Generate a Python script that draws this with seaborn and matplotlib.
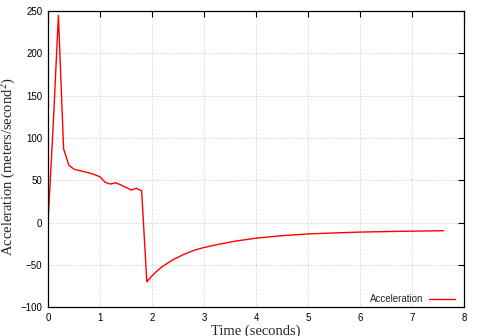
import matplotlib
matplotlib.use("Agg")
import matplotlib.pyplot as plt
import seaborn as sns
import pandas as pd

time_s = [0.0, 0.1, 0.2, 0.3, 0.4, 0.5, 0.6, 0.7, 0.8, 0.9, 1.0, 1.1, 1.2, 1.3, 1.4,
          1.5, 1.6, 1.7, 1.8, 1.9, 2.0, 2.1, 2.2, 2.4, 2.6, 2.8, 3.0, 3.3, 3.6, 4.0,
          4.5, 5.0, 5.5, 6.0, 6.5, 7.0, 7.6]
accel = [0.0, 115.0, 245.0, 87.0, 68.0, 63.0, 61.5, 60.0, 58.5, 56.5, 54.0, 47.5, 45.5,
         47.0, 44.5, 41.5, 38.5, 40.5, 37.5, -70.0, -63.0, -57.0, -52.0, -44.0, -38.0,
         -33.0, -29.5, -25.5, -22.0, -18.5, -15.5, -13.5, -12.3, -11.3, -10.7, -10.2, -9.7]
x_ticks = [0, 1, 2, 3, 4, 5, 6, 7, 8]
y_ticks = [-100, -50, 0, 50, 100, 150, 200, 250]

df = pd.DataFrame({"Time": time_s, "Acceleration": accel})

sns.set_style("white")
plt.rcParams["font.family"] = ["Liberation Sans", "DejaVu Sans"]
plt.rcParams["mathtext.fontset"] = "custom"
plt.rcParams["mathtext.rm"] = "Liberation Serif"
plt.rcParams["mathtext.it"] = "Liberation Serif:italic"
plt.rcParams["mathtext.bf"] = "Liberation Serif:bold"

fig = plt.figure(figsize=(4.8, 3.36), dpi=100)
ax = fig.add_axes([0.1, 0.086, 0.867, 0.881])

sns.lineplot(data=df, x="Time", y="Acceleration", ax=ax, color="#ff0000",
             linewidth=1.0, label="Acceleration", estimator=None, sort=False)

ax.set_xlim(0, 8)
ax.set_ylim(-100, 250)
ax.set_xticks(x_ticks)
ax.set_yticks(y_ticks)
ax.tick_params(direction="in", top=True, right=True, length=4, width=0.8,
               labelsize=7, colors="black", pad=4)
ax.grid(True, color="#bbbbbb", linestyle=(0, (1, 2)), linewidth=0.6)
for s in ax.spines.values():
    s.set_visible(True)
    s.set_color("black")
    s.set_linewidth(0.9)

ax.set_xlabel("Time (seconds)", family=["Liberation Serif", "DejaVu Serif"], fontsize=10.5, labelpad=1)
ax.set_ylabel(r"Acceleration (meters/second$^{\mathrm{2}}$)",
              family=["Liberation Serif", "DejaVu Serif"], fontsize=10.5, labelpad=0)
ax.yaxis.set_label_coords(-0.072, 0.473)

leg = ax.legend(loc="lower right", bbox_to_anchor=(0.985, 0.0), frameon=False,
                markerfirst=False, fontsize=7, handlelength=2.7, handletextpad=0.6,
                borderaxespad=0.0, borderpad=0.3)

fig.savefig("out.png", dpi=100, facecolor="white")
